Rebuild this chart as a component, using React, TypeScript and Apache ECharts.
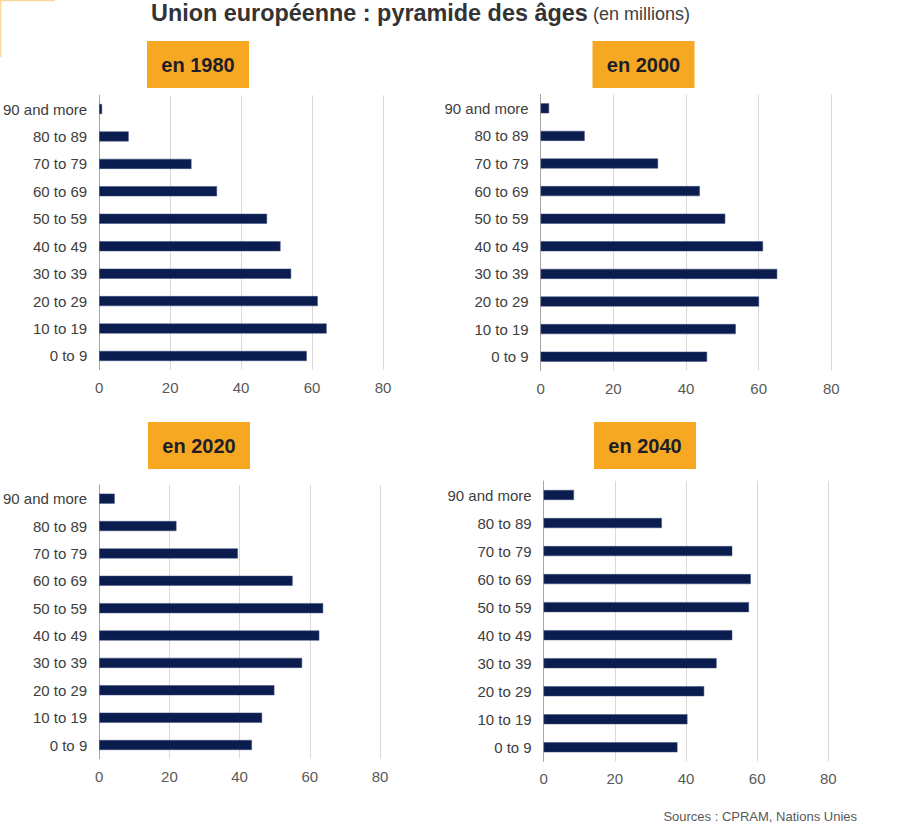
import React, { useEffect, useRef } from "react";
import * as echarts from "echarts";

const categories = ["0 to 9", "10 to 19", "20 to 29", "30 to 39", "40 to 49", "50 to 59", "60 to 69", "70 to 79", "80 to 89", "90 and more"];
const years = ["en 1980", "en 2000", "en 2020", "en 2040"];
const values1980 = [58.5, 64.1, 61.6, 54.1, 51.1, 47.3, 33.2, 26.0, 8.3, 0.8];
const values2000 = [45.8, 53.7, 60.1, 65.1, 61.2, 50.8, 43.8, 32.3, 12.1, 2.3];
const values2020 = [43.5, 46.4, 49.9, 57.8, 62.7, 63.8, 55.1, 39.5, 22.0, 4.4];
const values2040 = [37.6, 40.4, 45.1, 48.6, 53.0, 57.7, 58.2, 53.0, 33.2, 8.5];
const xTicks = [0, 20, 40, 60, 80];
const titleMain = "Union européenne : pyramide des âges";
const titleUnit = "(en millions)";
const sourceText = "Sources : CPRAM, Nations Unies";

const FONT = "Liberation Sans, Arial, sans-serif";

export default function App() {
  const ref = useRef<HTMLDivElement>(null);
  useEffect(() => {
    document.body.style.margin = "0";
    if (!ref.current) return;
    const chart = echarts.init(ref.current, undefined, { renderer: "svg" });
    const seriesData = [values1980, values2000, values2020, values2040];
    const grids = [
      { left: 96.5, top: 95.3, width: 286.5, height: 274.4 },
      { left: 540.7, top: 94.5, width: 290.6, height: 276 },
      { left: 98.3, top: 485, width: 281.7, height: 273.7 },
      { left: 543.7, top: 481, width: 284.6, height: 280.3 },
    ];
    const boxes = [
      { x: 147, y: 41 },
      { x: 592.5, y: 41 },
      { x: 148, y: 422 },
      { x: 594, y: 422 },
    ];
    const option: any = {
      animation: false,
      backgroundColor: "#ffffff",
      grid: grids.map((g) => ({ ...g, containLabel: false })),
      xAxis: grids.map((_, i) => ({
        type: "value",
        gridIndex: i,
        min: xTicks[0],
        max: xTicks[xTicks.length - 1],
        interval: 20,
        axisLine: { show: false },
        axisTick: { show: false },
        splitLine: { show: true, lineStyle: { color: "#d9d9d9", width: 1 } },
        axisLabel: { color: "#595959", fontSize: 15, fontFamily: FONT, margin: 10 },
      })),
      yAxis: grids.map((_, i) => ({
        type: "category",
        gridIndex: i,
        data: categories,
        axisLine: { show: true, lineStyle: { color: "#a6a6a6", width: 1 } },
        axisTick: { show: false },
        axisLabel: { color: "#404040", fontSize: 15, fontFamily: FONT, margin: 12 },
      })),
      series: seriesData.map((d, i) => ({
        type: "bar",
        xAxisIndex: i,
        yAxisIndex: i,
        data: d,
        barWidth: 10,
        itemStyle: { color: "#0b1d4f", borderColor: "#3a4d7c", borderWidth: 0.5 },
      })),
      graphic: [
        { type: "line", shape: { x1: 0.5, y1: 0, x2: 0.5, y2: 57 }, style: { stroke: "#f9d89a", lineWidth: 1.5 } },
        { type: "line", shape: { x1: 0, y1: 0.5, x2: 55, y2: 0.5 }, style: { stroke: "#f9d89a", lineWidth: 1.5 } },
        {
          type: "text",
          x: 151,
          y: 13,
          style: { text: titleMain, fontSize: 23.4, fontWeight: "bold", fontFamily: FONT, fill: "#333333", verticalAlign: "middle" },
        },
        {
          type: "text",
          x: 593,
          y: 14,
          style: { text: titleUnit, fontSize: 18, fontFamily: FONT, fill: "#404040", verticalAlign: "middle" },
        },
        {
          type: "text",
          x: 857,
          y: 816,
          style: { text: sourceText, fontSize: 13, fontFamily: FONT, fill: "#595959", align: "right", verticalAlign: "middle" },
        },
        ...boxes.flatMap((b, i) => [
          { type: "rect", shape: { x: b.x, y: b.y, width: 102, height: 47 }, style: { fill: "#f7a823" } },
          {
            type: "text",
            x: b.x + 51,
            y: b.y + 24,
            style: { text: years[i], fontSize: 20, fontWeight: "bold", fontFamily: FONT, fill: "#1e1e28", align: "center", verticalAlign: "middle" },
          },
        ]),
      ],
    };
    chart.setOption(option);
    return () => chart.dispose();
  }, []);
  return <div ref={ref} style={{ width: 900, height: 829 }} />;
}
